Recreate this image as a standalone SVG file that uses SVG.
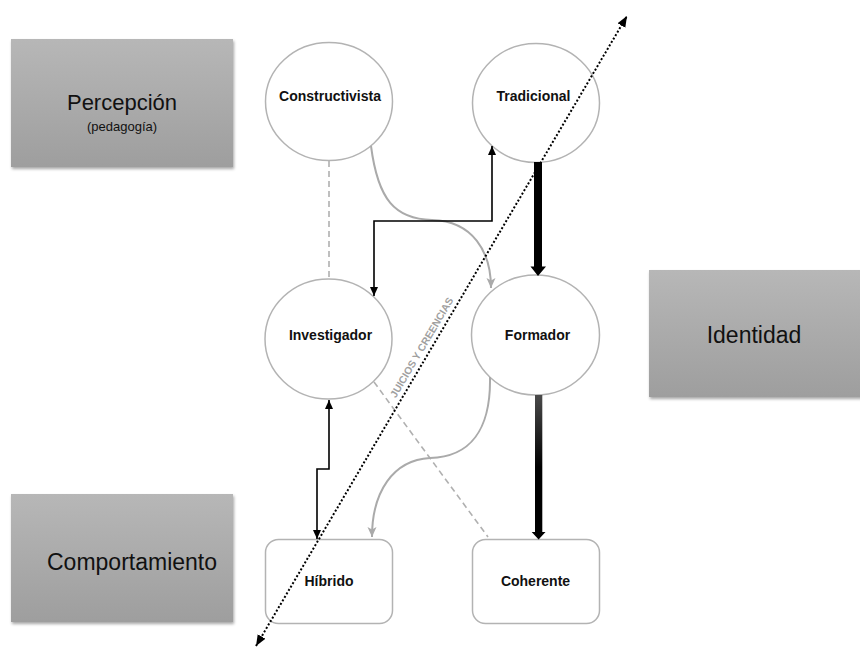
<svg xmlns="http://www.w3.org/2000/svg" width="860" height="650" viewBox="0 0 860 650">
  <style>
    .panel { fill: url(#panelGrad); filter: url(#shadow); }
    .panel-text { font-family: "Liberation Sans", Arial, sans-serif; fill: #111; text-anchor: middle; }
    .node { fill: #ffffff; stroke: #b3b3b3; stroke-width: 1.5; }
    .node-text { font-family: "Liberation Sans", Arial, sans-serif; font-weight: bold; font-size: 14px; fill: #111; text-anchor: middle; }
    .dash { fill: none; stroke: #b0b0b0; stroke-width: 1.6; stroke-dasharray: 6 4; }
    .curve { fill: none; stroke: #aaaaaa; stroke-width: 2; }
    .elbow { fill: none; stroke: #000; stroke-width: 1.6; }
    .dots { fill: none; stroke: #000; stroke-width: 2; stroke-dasharray: 2 2; }
    .axis-label { font-family: "Liberation Sans", Arial, sans-serif; font-weight: bold; font-size: 10.3px; fill: #a0a0a0; text-anchor: middle; }
  </style>
  <defs>
    <linearGradient id="panelGrad" x1="0" y1="0" x2="0" y2="1">
      <stop offset="0" stop-color="#b7b7b7"/>
      <stop offset="1" stop-color="#9e9e9e"/>
    </linearGradient>
    <linearGradient id="shaftGrad" x1="0" y1="0" x2="0" y2="1">
      <stop offset="0" stop-color="#4a4a4a"/>
      <stop offset="0.5" stop-color="#000"/>
      <stop offset="1" stop-color="#000"/>
    </linearGradient>
    <filter id="shadow" x="-10%" y="-10%" width="125%" height="130%">
      <feDropShadow dx="1" dy="2" stdDeviation="1.5" flood-color="#000" flood-opacity="0.35"/>
    </filter>
    <marker id="blackHead" markerUnits="userSpaceOnUse" markerWidth="10" markerHeight="10" viewBox="0 0 10 10" refX="9" refY="5" orient="auto-start-reverse">
      <path d="M0,1 L9,5 L0,9 Z" fill="#000"/>
    </marker>
    <marker id="greyHead" markerUnits="userSpaceOnUse" markerWidth="12" markerHeight="12" viewBox="0 0 12 12" refX="10" refY="6" orient="auto">
      <path d="M0,1.5 L10,6 L0,10.5 L2.5,6 Z" fill="#aaaaaa"/>
    </marker>
    <marker id="dotHead" markerUnits="userSpaceOnUse" markerWidth="12" markerHeight="12" viewBox="0 0 12 12" refX="11" refY="6" orient="auto-start-reverse">
      <path d="M0,1.5 L11,6 L0,10.5 Z" fill="#000"/>
    </marker>
  </defs>

  <rect width="860" height="650" fill="#ffffff"/>

  <g id="percepcion">
    <rect class="panel" x="11" y="39" width="222" height="128"/>
    <text class="panel-text" x="122" y="110" font-size="22">Percepción</text>
    <text class="panel-text" x="122" y="131" font-size="13">(pedagogía)</text>
  </g>
  <g id="identidad">
    <rect class="panel" x="649" y="270" width="216" height="127"/>
    <text class="panel-text" x="754" y="343" font-size="23">Identidad</text>
  </g>
  <g id="comportamiento">
    <rect class="panel" x="11" y="494" width="222" height="128"/>
    <text class="panel-text" x="132" y="570" font-size="23">Comportamiento</text>
  </g>

  <g id="constructivista">
    <ellipse class="node" cx="329" cy="101.5" rx="63.5" ry="59"/>
    <text class="node-text" x="330" y="101">Constructivista</text>
  </g>
  <g id="tradicional">
    <ellipse class="node" cx="536" cy="103" rx="63.5" ry="59.5"/>
    <text class="node-text" x="533.5" y="101">Tradicional</text>
  </g>
  <g id="investigador">
    <ellipse class="node" cx="328.5" cy="339" rx="63.5" ry="60"/>
    <text class="node-text" x="330.5" y="340">Investigador</text>
  </g>
  <g id="formador">
    <ellipse class="node" cx="535.5" cy="335" rx="64" ry="60"/>
    <text class="node-text" x="537.5" y="340">Formador</text>
  </g>
  <g id="hibrido">
    <rect class="node" x="265.5" y="539.5" width="127" height="84" rx="13"/>
    <text class="node-text" x="329" y="586">Híbrido</text>
  </g>
  <g id="coherente">
    <rect class="node" x="472.5" y="539.5" width="127" height="84" rx="13"/>
    <text class="node-text" x="535.5" y="586">Coherente</text>
  </g>

  <g id="connectors">
    <path class="dash" d="M329,161 L329,279"/>
    <path class="dash" d="M374,382 L488,537"/>
    <path class="curve" d="M371,146 C378,200 395,219 432,220 C473,221 491,252 491,288" marker-end="url(#greyHead)"/>
    <path class="curve" d="M490,377 C491,430 470,457 430,458 C393,460 372,492 372,537" marker-end="url(#greyHead)"/>
    <path class="elbow" d="M374,296 L374,221 L492,221 L492,146" marker-start="url(#blackHead)" marker-end="url(#blackHead)"/>
    <path class="elbow" d="M317,539 L317,469 L329,469 L329,400" marker-start="url(#blackHead)" marker-end="url(#blackHead)"/>
    <path d="M534,162 L542,162 L542,266.5 L546,266.5 L538,276 L530.5,266.5 L534,266.5 Z" fill="#000"/>
    <path d="M535,395 L542.3,395 L542.3,532 L545.5,532 L538.6,539.5 L531.7,532 L535,532 Z" fill="url(#shaftGrad)"/>
    <path class="dots" d="M256,646 L627,16" marker-start="url(#dotHead)" marker-end="url(#dotHead)"/>
    <text class="axis-label" transform="translate(424.8,349.3) rotate(-59.5)">JUICIOS Y CREENCIAS</text>
  </g>
</svg>
